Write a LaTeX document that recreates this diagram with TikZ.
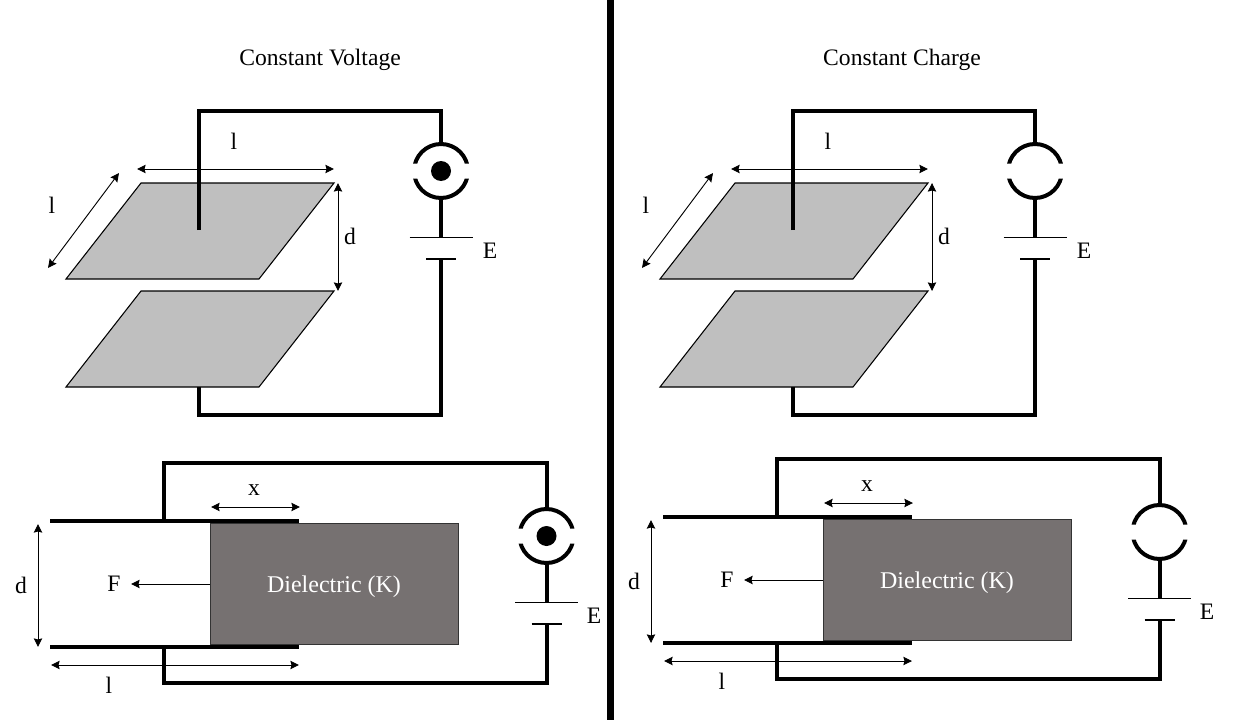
\documentclass[tikz,border=0pt]{standalone}
\usepackage{fontspec}
\setmainfont{Liberation Serif}
\usetikzlibrary{arrows.meta}
\definecolor{plategray}{HTML}{BFBFBF}
\definecolor{dielgray}{HTML}{767171}
\tikzset{
  wire/.style={line width=3pt,line cap=butt,line join=miter},
  thinline/.style={line width=1pt},
  tip/.tip={Stealth[length=6.5pt,width=6.4pt,inset=0.9pt]},
  dim/.style={line width=0.7pt,{tip}-{tip}},
  force/.style={line width=0.7pt,-{tip}},
  plate/.style={fill=plategray,draw=black,line width=0.8pt},
  lbl/.style={font=\fontsize{17.7pt}{20pt}\selectfont,inner sep=0pt,text=black},
}
% #1 source centre, with its wire stubs and battery below; #2 = dot or empty
\newcommand{\sourcebat}[2]{%
  \coordinate (srcC) at (#1);
  \coordinate (srcT) at ([shift={(0,27)}]srcC);
  \coordinate (srcB) at ([shift={(0,-27)}]srcC);
  \begin{scope}
    \clip ([shift={(-35,35)}]srcC) rectangle ([shift={(35,7.5)}]srcC)
          ([shift={(-35,-7.5)}]srcC) rectangle ([shift={(35,-35)}]srcC);
    \draw[wire] (srcC) circle[radius=27];
  \end{scope}
  #2
  \coordinate (batA) at ([shift={(0,-66.5)}]srcC);
  \coordinate (batB) at ([shift={(0,-88)}]srcC);
  \coordinate (batAl) at ([shift={(-31.5,0)}]batA);
  \coordinate (batAr) at ([shift={(31.5,0)}]batA);
  \coordinate (batBl) at ([shift={(-15,0)}]batB);
  \coordinate (batBr) at ([shift={(15,0)}]batB);
  \draw[thinline] (batAl) -- (batAr);
  \draw[thinline] (batBl) -- (batBr);
  \draw[wire] (srcB) -- (batA);
}
\newcommand{\srcdot}{\fill[black] (srcC) circle[radius=10];}
\newcommand{\toppanel}[3]{%
\begin{scope}[shift={(#1,0)},name prefix=#2]
  \coordinate (a1) at (141,-183); \coordinate (a2) at (334,-183);
  \coordinate (a3) at (259,-279); \coordinate (a4) at (66,-279);
  \coordinate (b1) at (141,-291); \coordinate (b2) at (334,-291);
  \coordinate (b3) at (259,-387); \coordinate (b4) at (66,-387);
  \draw[plate] (a1) -- (a2) -- (a3) -- (a4) -- cycle;
  \draw[plate] (b1) -- (b2) -- (b3) -- (b4) -- cycle;
  \sourcebat{441,-171}{#3}
  \coordinate (wireTop) at (199,-230);
  \coordinate (wireBot) at (199,-387);
  \coordinate (cornerT) at (441,-111);
  \coordinate (cornerB) at (441,-415);
  \draw[wire] (wireTop) |- (cornerT) -- (srcT);
  \draw[wire] (wireBot) |- (cornerB) -- (batB);
  \coordinate (h1) at (137,-169); \coordinate (h2) at (334,-169);
  \draw[dim] (h1) -- (h2);
  \coordinate (s1) at (48,-268); \coordinate (s2) at (119,-173);
  \draw[dim] (s1) -- (s2);
  \coordinate (d1) at (338,-183); \coordinate (d2) at (338,-291);
  \draw[dim] (d1) -- (d2);
  \node[lbl] (lh) at (234,-141) {l};
  \node[lbl] (ls) at (52,-205) {l};
  \node[lbl] (ld) at (350,-236) {d};
  \node[lbl] (lE) at (490,-251) {E};
\end{scope}}
\newcommand{\botpanel}[4]{%
\begin{scope}[shift={(#1,#2)},name prefix=#3]
  \coordinate (dA) at (210,-523); \coordinate (dB) at (458.5,-644);
  \draw[draw=black!80,line width=0.7pt,fill=dielgray] (dA) rectangle (dB);
  \node[lbl,text=white,font=\fontsize{18pt}{20pt}\selectfont] (dt) at (334,-587) {Dielectric (K)};
  \coordinate (p1l) at (50,-521); \coordinate (p1r) at (299,-521);
  \coordinate (p2l) at (50,-647); \coordinate (p2r) at (299,-647);
  \draw[wire] (p1l) -- (p1r);
  \draw[wire] (p2l) -- (p2r);
  \sourcebat{546.5,-536}{#4}
  \coordinate (w1) at (164,-521); \coordinate (w2) at (164,-647);
  \coordinate (cornerT) at (546.5,-463);
  \coordinate (cornerB) at (546.5,-683);
  \draw[wire] (w1) |- (cornerT) -- (srcT);
  \draw[wire] (w2) |- (cornerB) -- (batB);
  \coordinate (x1) at (211,-507); \coordinate (x2) at (300,-507);
  \draw[dim] (x1) -- (x2);
  \coordinate (d1) at (38,-524); \coordinate (d2) at (38,-647);
  \draw[dim] (d1) -- (d2);
  \coordinate (l1) at (51,-665); \coordinate (l2) at (299,-665);
  \draw[dim] (l1) -- (l2);
  \coordinate (f1) at (210,-584); \coordinate (f2) at (131,-584);
  \draw[force] (f1) -- (f2);
  \node[lbl] (lx) at (254,-490) {x};
  \node[lbl] (ld) at (21,-585) {d};
  \node[lbl] (ll) at (109,-685) {l};
  \node[lbl] (lF) at (114,-584) {F};
  \node[lbl] (lE) at (594,-616) {E};
\end{scope}}
\begin{document}
\begin{tikzpicture}[x=0.75pt,y=0.75pt]
  \useasboundingbox (0,0) rectangle (1254,-724);
  \fill[white] (0,0) rectangle (1254,-724);
  \fill[black] (607,0) rectangle (614,-720);
  \node[lbl] (t1) at (320,-60) {Constant Voltage};
  \node[lbl] (t2) at (902,-60) {Constant Charge};
  \toppanel{0}{tl-}{\srcdot}
  \toppanel{594}{tr-}{}
  \botpanel{0}{0}{bl-}{\srcdot}
  \botpanel{613}{4}{br-}{}
\end{tikzpicture}
\end{document}
